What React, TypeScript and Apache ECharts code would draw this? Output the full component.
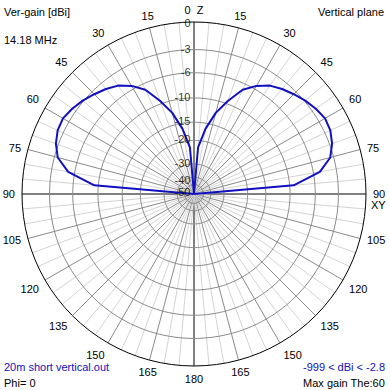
import React, { useEffect, useRef } from "react";
import * as echarts from "echarts";

// Elevation pattern (theta from zenith, degrees) and vertical gain (dBi)
const THETA = [0, 5, 10, 15, 20, 25, 30, 35, 40, 45, 50, 55, 60, 65, 70, 75, 80, 85, 90];
const GAIN = [-999, -22.3, -16.4, -12.3, -9.5, -6.9, -5.5, -4.5, -3.9, -3.4, -2.9, -2.5, -2.2, -2.3, -2.7, -3.4, -5.1, -9.3, -999];

// Grid rings (dB) and their labels
const RING_DB = [-3, -6, -10, -15, -20, -30, -40, -50];
const RING_LABEL_DB = [0, -3, -6, -10, -15, -20, -30, -40, -50];

const FONT = "Liberation Sans";
const BLUE = "#1010c0";

// ARRL log-periodic scale: 0.89 per 2 dB
const scale = (db: number) => Math.pow(0.89, -db / 2);

const CIRCLE_ANGLES: number[] = [];
for (let a = 0; a <= 360; a += 2) CIRCLE_ANGLES.push(a);

export default function App() {
  const ref = useRef<HTMLDivElement>(null);
  useEffect(() => {
    if (!ref.current) return;
    const chart = echarts.init(ref.current, undefined, { renderer: "svg" });

    // pattern: left half (phi=180) then right half (phi=0)
    const pattern: number[][] = [];
    for (let i = THETA.length - 1; i >= 0; i--) pattern.push([scale(GAIN[i]), 360 - THETA[i]]);
    for (let i = 0; i < THETA.length; i++) pattern.push([scale(GAIN[i]), THETA[i]]);

    const splitColors: string[] = [];
    for (let i = 0; i < 18; i++) {
      splitColors.push(i === 0 ? "#000000" : i % 3 === 0 ? "#8a8a8a" : "#d4d4d4");
    }

    const ringSeries = RING_DB.map((db) => ({
      type: "line",
      coordinateSystem: "polar",
      silent: true,
      symbol: "none",
      z: 1,
      lineStyle: { color: "#8a8a8a", width: 1 },
      data: CIRCLE_ANGLES.map((a) => [scale(db), a]),
    }));

    // crowded inner labels are nudged downward as in the original plot
    const labelShift = (db: number) => (db === -50 ? 7 : db === -40 ? 3 : db === 0 ? 1 : -1);

    chart.setOption({
      animation: false,
      backgroundColor: "#ffffff",
      polar: { center: [194, 194], radius: 172 },
      angleAxis: {
        type: "value",
        min: 0,
        max: 360,
        interval: 5,
        startAngle: 90,
        clockwise: true,
        axisLine: { lineStyle: { color: "#000", width: 1 } },
        axisTick: { show: false },
        axisLabel: {
          margin: 7,
          color: "#000",
          fontSize: 11,
          fontFamily: FONT,
          formatter: (v: number) => {
            if (v % 15 !== 0 || v === 360) return "";
            if (v === 0) return "0  Z";
            return String(v <= 180 ? v : 360 - v);
          },
        },
        splitLine: { show: true, lineStyle: { color: splitColors, width: 1 } },
      },
      radiusAxis: {
        type: "value",
        min: 0,
        max: 1,
        axisLine: { show: false },
        axisTick: { show: false },
        axisLabel: { show: false },
        splitLine: { show: false },
      },
      series: [
        ...ringSeries,
        {
          type: "line",
          coordinateSystem: "polar",
          symbol: "none",
          z: 5,
          lineStyle: { color: BLUE, width: 2 },
          data: pattern,
        },
        {
          type: "scatter",
          coordinateSystem: "polar",
          symbolSize: 1,
          z: 6,
          itemStyle: { color: "rgba(0,0,0,0)" },
          label: {
            show: true,
            position: "left",
            distance: 3,
            color: "#000",
            fontSize: 11,
            lineHeight: 11,
            fontFamily: FONT,
            formatter: (p: any) => String(RING_LABEL_DB[p.dataIndex]),
          },
          data: RING_LABEL_DB.map((db) => ({
            value: [scale(db), 0],
            label: { offset: [0, labelShift(db)] },
          })),
        },
      ],
      graphic: [
        { type: "text", left: 4, top: 6, style: { text: "Ver-gain [dBi]", fontSize: 11, fontFamily: FONT, fill: "#000" } },
        { type: "text", left: 4, top: 34, style: { text: "14.18 MHz", fontSize: 11, fontFamily: FONT, fill: "#000" } },
        { type: "text", right: 6, top: 6, style: { text: "Vertical plane", fontSize: 11, fontFamily: FONT, fill: "#000" } },
        { type: "text", left: 371, top: 199, style: { text: "XY", fontSize: 11, fontFamily: FONT, fill: "#000" } },
        { type: "text", left: 4, top: 361, style: { text: "20m short vertical.out", fontSize: 11, fontFamily: FONT, fill: BLUE } },
        { type: "text", left: 4, top: 377, style: { text: "Phi= 0", fontSize: 11, fontFamily: FONT, fill: "#000" } },
        { type: "text", right: 5, top: 361, style: { text: "-999 < dBi < -2.8", fontSize: 11, fontFamily: FONT, fill: BLUE } },
        { type: "text", right: 5, top: 377, style: { text: "Max gain The:60", fontSize: 11, fontFamily: FONT, fill: "#000" } },
      ],
    });
    return () => chart.dispose();
  }, []);
  return (
    <div
      ref={ref}
      style={{ position: "fixed", left: 0, top: 0, width: 390, height: 390, background: "#fff" }}
    />
  );
}
